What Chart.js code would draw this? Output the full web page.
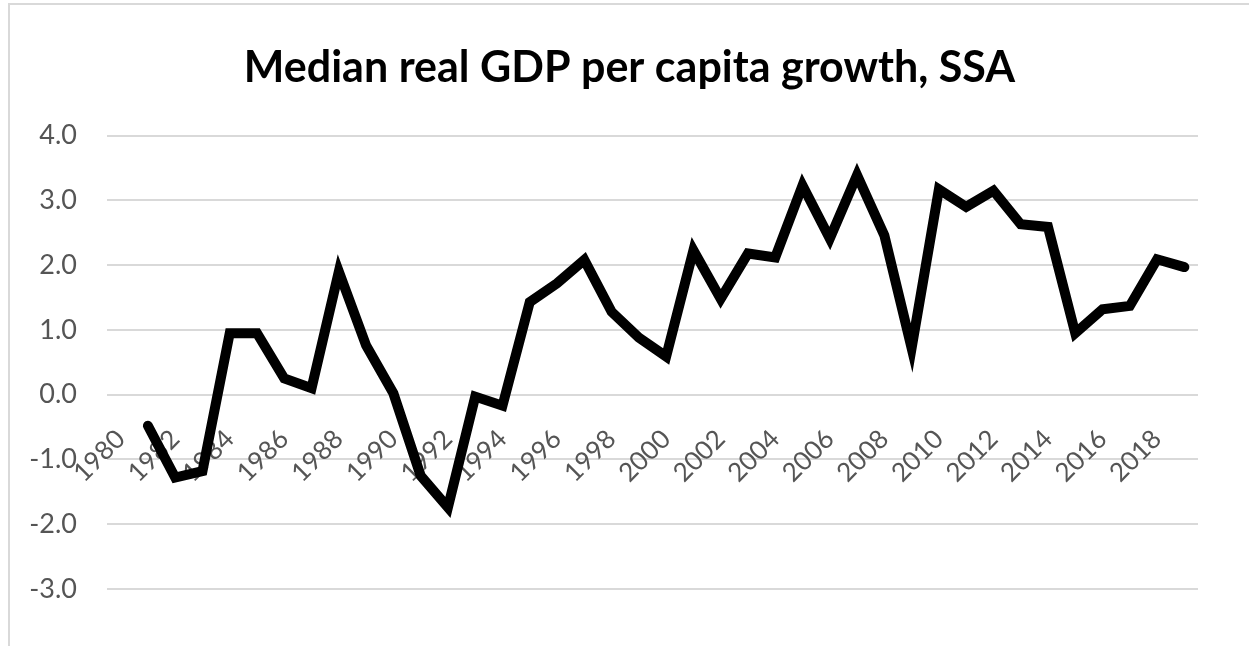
<!DOCTYPE html>
<html>
<head>
<meta charset="utf-8">
<script src="https://cdn.jsdelivr.net/npm/chart.js@4"></script>
<style>
  html, body { margin: 0; padding: 0; background: #fff; }
  #frame {
    position: absolute; left: 8px; top: 3px; right: -10px; bottom: -10px;
    border-left: 2px solid #d9d9d9; border-top: 2px solid #d9d9d9;
  }
  #wrap { position: absolute; left: 0; top: 0; width: 1249px; height: 646px; }
</style>
</head>
<body>
<div id="frame"></div>
<div id="wrap"><canvas id="gdpChart" width="1249" height="646"></canvas></div>
<script>
const years = [];
for (let y = 1980; y <= 2019; y++) years.push(String(y));

// median growth, percent; no value for 1980
const growth = [
  null, -0.48, -1.28, -1.18, 0.95, 0.95, 0.25, 0.10, 1.90, 0.76,
  0.02, -1.25, -1.74, -0.03, -0.17, 1.43, 1.72, 2.08, 1.28, 0.88,
  0.59, 2.23, 1.48, 2.18, 2.12, 3.23, 2.41, 3.39, 2.46, 0.72,
  3.17, 2.90, 3.15, 2.63, 2.59, 0.95, 1.32, 1.37, 2.09, 1.97
];

const yTicks = [-3, -2, -1, 0, 1, 2, 3, 4];

Chart.defaults.font.family = 'Lato, "Open Sans", sans-serif';

var ctx = document.getElementById('gdpChart').getContext('2d');
var myChart = new Chart(ctx, {
    type: 'line',
    data: {
        labels: years,
        datasets: [{
            label: 'Median real GDP per capita growth',
            data: growth,
            borderColor: '#000000',
            borderWidth: 10,
            borderJoinStyle: 'miter',
            borderCapStyle: 'round',
            pointRadius: 0,
            tension: 0,
            fill: false,
        }]
    },
    options: {
        responsive: false,
        animation: false,
        layout: { padding: { left: 10, right: 0, top: 1, bottom: 57 } },
        plugins: {
            legend: { display: false },
            tooltip: { enabled: false },
            title: {
                display: true,
                text: 'Median real GDP per capita growth, SSA',
                color: '#000000',
                font: { size: 43, weight: 'bold' },
                padding: { top: 41, bottom: 42 },
            }
        },
        scales: {
            x: {
                type: 'category',
                offset: true,
                position: { y: 0 },
                grid: { display: false },
                border: { display: false },
                ticks: {
                    autoSkip: false,
                    minRotation: 45,
                    maxRotation: 45,
                    padding: 21,
                    color: '#555555',
                    font: { size: 26 },
                    callback: function (value, index) {
                        return index % 2 === 0 ? years[index] : '';
                    }
                }
            },
            y: {
                min: yTicks[0],
                max: yTicks[yTicks.length - 1],
                afterFit: function (scale) { scale.width = 97; },
                afterBuildTicks: function (scale) {
                    scale.ticks = yTicks.map(v => ({ value: v }));
                },
                grid: { color: '#d9d9d9', lineWidth: 2, drawTicks: false },
                border: { display: false },
                ticks: {
                    padding: 30,
                    color: '#555555',
                    font: { size: 27 },
                    callback: v => Number(v).toFixed(1)
                }
            },
            // empty right-hand axis, only reserves the margin right of the plot
            yRight: {
                type: 'linear',
                position: 'right',
                afterFit: function (scale) { scale.width = 51; },
                grid: { display: false },
                border: { display: false },
                ticks: { display: false }
            }
        }
    }
});
</script>
</body>
</html>
